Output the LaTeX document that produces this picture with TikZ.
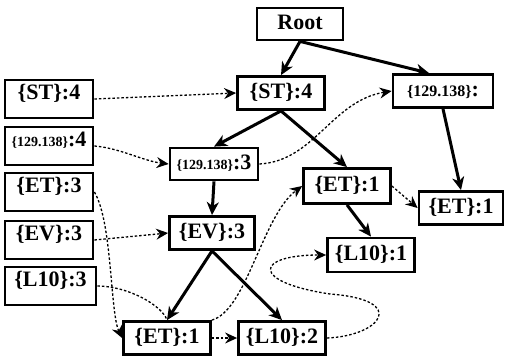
\documentclass[tikz,border=0pt]{standalone}
\usepackage{fontspec}
\setmainfont{Liberation Serif}
\usetikzlibrary{arrows.meta}

\newcommand{\ipgrp}[1]{{\fontsize{#1}{#1}\selectfont\{129.138\}}}

\begin{document}
\begin{tikzpicture}[x=1pt, y=-1pt,
  font=\fontsize{22}{22}\selectfont\bfseries,
  tnode/.style={rectangle, draw=black, line width=2.8pt, minimum width=87pt, minimum height=33pt, inner sep=1pt, text height=16pt, text depth=5pt},
  hnode/.style={rectangle, draw=black, line width=2.8pt, minimum width=88pt, inner sep=2pt, text height=17pt, text depth=17pt},
  treeedge/.style={line width=3pt, -{Stealth[length=13pt,width=12pt,inset=4pt]}},
  linkedge/.style={line width=1.3pt, dash pattern=on 2.5pt off 2pt, -{Stealth[length=12pt,width=11pt,inset=4pt]}}]
 \useasboundingbox (0,0) rectangle (505,359);
 % header table
 \node [hnode] (STh) at (49, 99) {\{ST\}:4};
 \node [hnode] (IPh) at (49, 146) {\ipgrp{14}:4};
 \node [hnode] (ETh) at (49, 192) {\{ET\}:3};
 \node [hnode] (EVh) at (49, 240) {\{EV\}:3};
 \node [hnode, minimum width=91pt] (Lh) at (50.5, 286) {\{L10\}:3};
 % tree
 \node [tnode, minimum width=86pt, minimum height=32pt] (Root) at (300, 24) {Root};
 \node [tnode] (ST) at (281, 93) {\{ST\}:4};
 \node [tnode, minimum width=100pt] (IPr) at (443, 91) {\ipgrp{16}:};
 \node [tnode, minimum width=88pt, minimum height=32pt] (IPm) at (214, 164) {\ipgrp{14}:3};
 \node [tnode, minimum height=35pt] (ETm) at (347, 186) {\{ET\}:1};
 \node [tnode, minimum width=84pt] (ETr) at (461, 208) {\{ET\}:1};
 \node [tnode, minimum width=85pt] (EV) at (212, 233) {\{EV\}:3};
 \node [tnode, minimum height=34pt] (Lm) at (371, 255) {\{L10\}:1};
 \node [tnode] (ETb) at (167, 338) {\{ET\}:1};
 \node [tnode] (Lb) at (282, 338) {\{L10\}:2};
 % tree edges
 \draw [treeedge] (Root.south) to (ST.north);
 \draw [treeedge] (Root.south) to (IPr.128);
 \draw [treeedge] (ST.south) to (IPm.north);
 \draw [treeedge] (ST.south) to (ETm.north);
 \draw [treeedge] (IPr.south) to (ETr.north);
 \draw [treeedge] (IPm.south) to (EV.north);
 \draw [treeedge] (ETm.south) to (Lm.north);
 \draw [treeedge] (EV.south) to (ETb.north);
 \draw [treeedge] (EV.south) to (Lb.north);
 % node links
 \draw [linkedge] (STh.east) -- (ST.west);
 \draw [linkedge] (IPh.east) .. controls +(25,2) and +(-25,-3) .. (IPm.west);
 \draw [linkedge] (IPm.east) .. controls +(55,-3) and +(-60,10) .. (IPr.west);
 \draw [linkedge] (ETh.east) .. controls +(18,30) and +(-12,-25) .. (ETb.west);
 \draw [linkedge] (EVh.east) -- (EV.west);
 \draw [linkedge, -] (Lh.east) .. controls +(30,0) and +(-5,-15) .. (ETb.north);
 \draw [linkedge] (ETb.east) -- (Lb.west);
 \draw [linkedge] (ETb.north east) .. controls +(35,-10) and +(-40,30) .. (ETm.west);
 \draw [linkedge] (ETm.east) -- (ETr.west);
 \draw [linkedge] (Lb.east) .. controls (380,336) and (410,300) .. (330,294)
   .. controls (250,282) and (255,255) .. (Lm.west);
\end{tikzpicture}
\end{document}
